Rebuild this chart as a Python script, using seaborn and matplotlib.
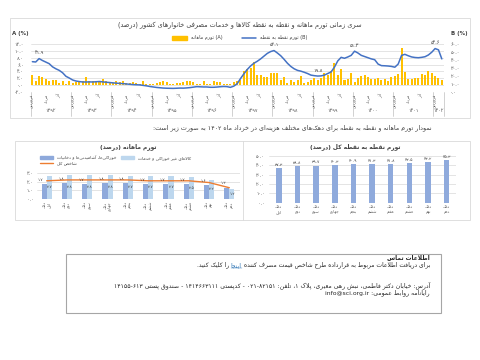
import re
import numpy as np
import pandas as pd
import seaborn as sns
import matplotlib.pyplot as plt
from matplotlib.patches import Rectangle, Patch
from matplotlib.lines import Line2D
from matplotlib.ticker import FuncFormatter
from matplotlib.transforms import blended_transform_factory

# ---------------- data ----------------
years = ['1392', '1393', '1394', '1395', '1396', '1397', '1398', '1399', '1400', '1401', '1402']
month_names = ['فروردین', 'مرداد', 'آذر']   # months labelled on the axis (every 4th)

# monthly inflation (A, left axis), Farvardin 1392 .. Khordad 1402
monthly_a = [
    3.0, 1.1, 2.6, 2.2, 1.8, 1.3, 1.4, 1.4, 0.5, 1.2, 0.3, 1.1,
    0.5, 1.0, 1.1, 1.3, 2.3, 1.2, 1.1, 1.0, 1.3, 1.8, 1.2, 0.8,
    0.6, 1.2, 0.9, 1.2, 0.7, 0.6, 0.8, 0.5, 0.4, 1.2, 0.3, 0.4,
    0.2, 0.6, 1.0, 1.1, 0.9, 0.4, 0.3, 0.7, 0.6, 0.9, 1.2, 1.2,
    0.9, 0.4, 0.3, 1.2, 0.2, 0.4, 1.1, 0.8, 0.8, 0.4, 0.2, 0.2,
    1.0, 1.3, 1.5, 4.0, 4.8, 5.0, 6.8, 2.8, 2.8, 2.3, 2.4, 3.4,
    3.5, 3.5, 1.4, 2.4, 0.5, 1.4, 0.9, 1.5, 2.6, 0.7, 1.0, 1.5,
    1.9, 1.6, 2.0, 3.4, 2.9, 4.0, 6.4, 3.0, 4.6, 1.5, 1.8, 3.4,
    1.0, 2.1, 2.6, 2.9, 2.4, 1.8, 1.7, 2.1, 1.5, 1.8, 1.3, 2.4,
    2.6, 3.2, 10.8, 3.9, 1.8, 1.8, 2.0, 2.0, 3.2, 2.9, 4.2, 3.4,
    2.6, 1.9, 1.5,
]
# point-to-point inflation (B, right axis)
point_b = [
    38.0, 37.6, 41.9, 39.5, 37.5, 35.5, 31.5, 29.0, 27.0, 24.0, 19.5, 17.3,
    14.8, 13.5, 12.8, 12.3, 12.3, 12.4, 12.3, 12.6, 12.9, 12.4, 12.0, 11.6,
    11.2, 10.8, 10.5, 10.2, 9.8, 9.4, 9.0, 8.8, 8.6, 8.0, 7.4, 6.6,
    6.0, 5.4, 5.0, 4.6, 4.4, 4.3, 4.2, 4.4, 4.6, 4.5, 4.8, 5.2,
    5.8, 6.4, 6.2, 6.0, 6.0, 5.6, 5.6, 5.9, 6.3, 6.6, 6.4, 5.5,
    7.0, 10.0, 16.5, 22.5, 28.0, 32.5, 36.0, 38.5, 41.5, 45.0, 48.5, 50.8,
    52.1, 49.0, 45.5, 41.0, 36.0, 32.0, 29.0, 27.0, 26.0, 24.6, 23.0, 21.0,
    20.3, 19.8, 20.0, 21.0, 23.0, 25.0, 31.0, 39.0, 43.5, 42.3, 44.0, 46.0,
    51.3, 49.0, 46.0, 44.5, 43.0, 41.5, 40.5, 35.0, 33.0, 32.8, 32.5, 32.0,
    31.0, 35.0, 46.0, 47.3, 45.5, 44.0, 43.3, 43.0, 43.5, 44.3, 46.5, 50.0,
    54.6, 53.0, 41.5,
]
labelled_months = [2, 72, 85, 96, 120]

deciles = ['اول', 'دوم', 'سوم', 'چهارم', 'پنجم', 'ششم', 'هفتم', 'هشتم', 'نهم', 'دهم']
food = [1.7, 1.8, 1.7, 1.8, 1.8, 1.7, 1.7, 1.7, 1.6, 1.3]
nonfood = [2.7, 2.8, 2.8, 2.8, 2.7, 2.7, 2.7, 2.5, 2.2, 1.2]
total = [2.1, 2.2, 2.2, 2.2, 2.2, 2.1, 2.1, 2.1, 1.9, 1.3]
decile_point = [37.3, 38.8, 39.7, 40.3, 40.9, 41.3, 41.8, 42.5, 43.2, 45.3]

YEL, BLUE = '#FFC000', '#4472C4'
DARK, LIGHT, MID, ORANGE = '#8EA9DB', '#BDD7EE', '#8FAADC', '#ED7D31'
TXT = '#404040'

# ---------------- persian text helpers ----------------
_FORMS = {}
_code = 0xFE80
for ch, k in [(0x0621, 1), (0x0622, 2), (0x0623, 2), (0x0624, 2), (0x0625, 2), (0x0626, 4),
              (0x0627, 2), (0x0628, 4), (0x0629, 2), (0x062A, 4), (0x062B, 4), (0x062C, 4),
              (0x062D, 4), (0x062E, 4), (0x062F, 2), (0x0630, 2), (0x0631, 2), (0x0632, 2),
              (0x0633, 4), (0x0634, 4), (0x0635, 4), (0x0636, 4), (0x0637, 4), (0x0638, 4),
              (0x0639, 4), (0x063A, 4), (0x0641, 4), (0x0642, 4), (0x0643, 4), (0x0644, 4),
              (0x0645, 4), (0x0646, 4), (0x0647, 4), (0x0648, 2), (0x0649, 2), (0x064A, 4)]:
    _FORMS[chr(ch)] = tuple(chr(_code + j) for j in range(k))
    _code += k
for ch, start, k in [(0x067E, 0xFB56, 4), (0x0686, 0xFB7A, 4), (0x0698, 0xFB8A, 2),
                     (0x06A9, 0xFB8E, 4), (0x06AF, 0xFB92, 4), (0x06CC, 0xFBFC, 4)]:
    _FORMS[chr(ch)] = tuple(chr(start + j) for j in range(k))
_LAMALEF = {'\u0627': ('\uFEFB', '\uFEFC'), '\u0622': ('\uFEF5', '\uFEF6'),
            '\u0623': ('\uFEF7', '\uFEF8'), '\u0625': ('\uFEF9', '\uFEFA')}


def shape(text):
    out, i, n = [], 0, len(text)
    while i < n:
        c = text[i]
        if c not in _FORMS:
            if c != '\u200c':
                out.append(c)
            i += 1
            continue
        prev = text[i - 1] if i > 0 else ''
        pj = prev in _FORMS and len(_FORMS[prev]) == 4
        if c == '\u0644' and i + 1 < n and text[i + 1] in _LAMALEF:
            out.append(_LAMALEF[text[i + 1]][1 if pj else 0])
            i += 2
            continue
        f = _FORMS[c]
        nxt = text[i + 1] if i + 1 < n else ''
        nj = len(f) == 4 and nxt in _FORMS
        if pj and nj:
            g = f[3]
        elif pj:
            g = f[1] if len(f) > 1 else f[0]
        elif nj:
            g = f[2]
        else:
            g = f[0]
        out.append(g)
        i += 1
    return ''.join(out)


_LTR = re.compile(r'[A-Za-z0-9\u06F0-\u06F9]+(?:[.@\-/][A-Za-z0-9\u06F0-\u06F9]+)*')
_MIRROR = {'(': ')', ')': '('}


def rtl(text):
    s = shape(text)
    parts, pos = [], 0
    for m in _LTR.finditer(s):
        if m.start() > pos:
            parts.append(('r', s[pos:m.start()]))
        parts.append(('l', m.group()))
        pos = m.end()
    if pos < len(s):
        parts.append(('r', s[pos:]))
    out = []
    for kind, p in reversed(parts):
        out.append(p if kind == 'l' else ''.join(_MIRROR.get(c, c) for c in reversed(p)))
    return ''.join(out)


def fa(s):
    return str(s).translate(str.maketrans('0123456789', '۰۱۲۳۴۵۶۷۸۹'))


fa1 = FuncFormatter(lambda v, p: fa(f'{v:.1f}'))

# ---------------- figure ----------------
sns.set_theme(style='white')
plt.rcParams['font.family'] = ['DejaVu Sans']
plt.rcParams['axes.unicode_minus'] = False

W, H = 480, 360
fig = plt.figure(figsize=(W / 100, H / 100), dpi=100, facecolor='white')


def fx(x):
    return x / W


def fy(y):
    return 1 - y / H


def box(x0, y0, x1, y1):
    return [fx(x0), fy(y1), (x1 - x0) / W, (y1 - y0) / H]


def frame(x0, y0, x1, y1, color, lw=0.6):
    fig.add_artist(Rectangle((fx(x0), fy(y1)), (x1 - x0) / W, (y1 - y0) / H,
                             transform=fig.transFigure, fill=False, ec=color, lw=lw))


# ---- top chart ----
n = len(monthly_a)
frame(10, 18, 470, 118, '#D9D9D9')
fig.text(fx(240), fy(25), rtl('سری زمانی تورم ماهانه و نقطه به نقطه کالاها و خدمات مصرفی خانوارهای کشور (درصد)'),
         ha='center', va='center', fontsize=4.7, color=TXT)
fig.text(fx(12), fy(33), 'A (%)', ha='left', va='center', fontsize=4, color=TXT, fontweight='bold')
fig.text(fx(468), fy(33), 'B (%)', ha='right', va='center', fontsize=4, color=TXT, fontweight='bold')

ax = fig.add_axes(box(30.7, 44.3, 443.5, 91.7))
df_m = pd.DataFrame({'m': np.arange(n), 'a': monthly_a, 'b': point_b})
sns.barplot(data=df_m, x='m', y='a', color=YEL, saturation=1, width=0.6, errorbar=None,
            edgecolor='none', linewidth=0, ax=ax)
ax.set_ylim(-2, 12)
ax.set_yticks(np.arange(-2, 13, 2))
ax.yaxis.set_major_formatter(fa1)
ax.set_xticks([])
ax.set_xlabel('')
ax.set_ylabel('')
ax.grid(axis='y', color='#D9D9D9', lw=0.5)
ax.set_axisbelow(True)
sns.despine(ax=ax, left=True, bottom=True)
ax.tick_params(axis='y', length=0, labelsize=3.5, labelcolor='#595959', pad=5)

ax2 = ax.twinx()
sns.lineplot(data=df_m, x='m', y='b', color=BLUE, lw=1.1, ax=ax2)
ax2.set_ylim(0, 60)
ax2.set_yticks(np.arange(0, 61, 10))
ax2.yaxis.set_major_formatter(fa1)
ax2.set_xlabel('')
ax2.set_ylabel('')
ax2.grid(False)
sns.despine(ax=ax2, left=True, bottom=True, right=True)
ax2.tick_params(axis='y', length=0, labelsize=3.5, labelcolor='#595959', pad=5)
for m in labelled_months:
    ax2.annotate(fa(f'{point_b[m]:.1f}'), (m, point_b[m]), xytext=(0, 2.5), textcoords='offset points',
                 ha='center', va='bottom', fontsize=3.5, color=TXT)

trans = blended_transform_factory(ax.transData, fig.transFigure)
for yi, yr in enumerate(years):
    start = yi * 12
    count = min(12, n - start)
    for k, name in zip((0, 4, 8), month_names):
        if k < count:
            ax.text(start + k, fy(93.5), rtl(name), rotation=90, ha='center', va='top',
                    fontsize=3, color='#595959', transform=trans, clip_on=False)
    ax.text(start + (count - 1) / 2, fy(111), fa(yr), ha='center', va='center',
            fontsize=3.5, color='#595959', transform=trans, clip_on=False)
    ax.plot([start - 0.5] * 2, [fy(92), fy(116)], transform=trans, color='#BFBFBF', lw=0.5, clip_on=False)
ax.plot([n - 0.5] * 2, [fy(92), fy(116)], transform=trans, color='#BFBFBF', lw=0.5, clip_on=False)
ax.set_xlim(-0.5, n - 0.5)

fig.legend([Patch(color=YEL), Line2D([], [], color=BLUE, lw=1.1)],
           [rtl('(A) تورم ماهانه'), rtl('(B) تورم نقطه به نقطه')],
           loc='center', bbox_to_anchor=(fx(240), fy(38)), ncol=2, frameon=False, fontsize=3.5,
           handlelength=3, handleheight=0.8, columnspacing=4, borderpad=0, labelcolor=TXT)

fig.text(fx(432), fy(128), rtl('نمودار تورم ماهانه و نقطه به نقطه برای دهک‌های مختلف هزینه‌ای در خرداد ماه ۱۴۰۲ به صورت زیر است:'),
         ha='right', va='center', fontsize=4.6, color=TXT)

# ---- bottom panels ----
frame(15, 140.7, 470, 220, '#D9D9D9')
fig.add_artist(Line2D([fx(243)] * 2, [fy(140.7), fy(220)], transform=fig.transFigure, color='#D9D9D9', lw=0.6))

# monthly inflation by decile
fig.text(fx(128), fy(146.5), rtl('تورم ماهانه (درصد)'), ha='center', va='center', fontsize=4.2, color=TXT, fontweight='bold')
axL = fig.add_axes(box(36.5, 173, 239.5, 199))
df_l = pd.DataFrame({'dec': np.tile(np.arange(10), 2), 'val': food + nonfood,
                     'grp': ['food'] * 10 + ['nonfood'] * 10})
sns.barplot(data=df_l, x='dec', y='val', hue='grp', palette=[DARK, LIGHT], width=0.5, saturation=1,
            errorbar=None, legend=False, edgecolor='none', linewidth=0, ax=axL)
axL.plot(np.arange(10), total, color=ORANGE, lw=1)
axL.set_xlim(-0.5, 9.5)
axL.set_ylim(0, 3)
axL.set_yticks([0, 1, 2, 3])
axL.yaxis.set_major_formatter(fa1)
axL.set_xticks([])
axL.set_xlabel('')
axL.set_ylabel('')
axL.grid(axis='y', color='#D9D9D9', lw=0.5)
axL.set_axisbelow(True)
sns.despine(ax=axL, left=True, bottom=True)
axL.tick_params(axis='y', length=0, labelsize=3.3, labelcolor='#595959', pad=2.5)
for i in range(10):
    axL.text(i - 0.3, food[i] + 0.3, fa(f'{food[i]:.1f}'), ha='center', va='bottom', fontsize=3, color=TXT)
    axL.text(i + 0.14, nonfood[i] / 2, fa(f'{nonfood[i]:.1f}'), ha='center', va='center', fontsize=3, color=TXT)
transL = blended_transform_factory(axL.transData, fig.transFigure)
for i, d in enumerate(deciles):
    axL.text(i, fy(201), rtl('دهک') + '\n' + rtl(d), rotation=90, ha='center', va='top', fontsize=2.8,
             color='#595959', linespacing=1.1, transform=transL, clip_on=False)
fig.legend([Patch(color=DARK), Line2D([], [], color=ORANGE, lw=1), Patch(color=LIGHT)],
           [rtl('خوراکی‌ها، آشامیدنی‌ها و دخانیات'), rtl('شاخص کل'), rtl('کالاهای غیر خوراکی و خدمات')],
           loc='upper left', bbox_to_anchor=(fx(40), fy(155.5)), ncol=2, frameon=False, fontsize=3.2,
           handlelength=3, handleheight=0.7, columnspacing=1, labelspacing=0.3, borderpad=0,
           borderaxespad=0, labelcolor=TXT)

# point-to-point inflation by decile
fig.text(fx(355), fy(146.5), rtl('تورم نقطه به نقطه کل (درصد)'), ha='center', va='center', fontsize=4.2, color=TXT, fontweight='bold')
axR = fig.add_axes(box(269.4, 156, 456, 202.7))
df_r = pd.DataFrame({'dec': np.arange(10), 'val': decile_point})
sns.barplot(data=df_r, x='dec', y='val', color=MID, width=0.3, saturation=1, errorbar=None,
            edgecolor='none', linewidth=0, ax=axR)
axR.set_xlim(-0.5, 9.5)
axR.set_ylim(0, 50)
axR.set_yticks(np.arange(0, 51, 10))
axR.yaxis.set_major_formatter(fa1)
axR.set_xticks([])
axR.set_xlabel('')
axR.set_ylabel('')
axR.grid(axis='y', color='#D9D9D9', lw=0.5)
axR.set_axisbelow(True)
sns.despine(ax=axR, left=True, bottom=True)
axR.tick_params(axis='y', length=0, labelsize=3.3, labelcolor='#595959', pad=3.2)
for i, v in enumerate(decile_point):
    axR.text(i, v + 1.2, fa(f'{v:.1f}'), ha='center', va='bottom', fontsize=3.2, color=TXT)
transR = blended_transform_factory(axR.transData, fig.transFigure)
for i, d in enumerate(deciles):
    axR.text(i, fy(205), rtl('دهک') + '\n' + rtl(d), ha='center', va='top', fontsize=2.8,
             color='#595959', linespacing=1.3, transform=transR, clip_on=False)

# ---- contact box ----
frame(65.7, 254, 440.7, 313, '#A6A6A6', lw=0.8)
fig.text(fx(430), fy(257.5), rtl('اطلاعات تماس'), ha='right', va='center', fontsize=4.2, color='#262626', fontweight='bold')
fig.canvas.draw()
renderer = fig.canvas.get_renderer()
x_right = 430
for txt, col in [('برای دریافت اطلاعات مربوط به قرارداده طرح شاخص قیمت مصرف کننده', '#262626'),
                 ('اینجا', '#2E75B6'), ('را کلیک کنید.', '#262626')]:
    t = fig.text(fx(x_right), fy(265), rtl(txt), ha='right', va='center', fontsize=4.3, color=col)
    bb = t.get_window_extent(renderer)
    if col == '#2E75B6':
        fig.add_artist(Line2D([bb.x0 / W, bb.x1 / W], [fy(267.8)] * 2, transform=fig.transFigure, color=col, lw=0.3))
    x_right = bb.x0 - 1.9
fig.text(fx(430), fy(285), rtl('آدرس: خیابان دکتر فاطمی، نبش رهی معیری، پلاک ۱، تلفن: ۰۲۱-۸۲۱۵۱ - کدپستی ۱۴۱۴۶۶۳۱۱۱ - صندوق پستی ۱۴۱۵۵-۶۱۳'),
         ha='right', va='center', fontsize=4.4, color='#262626')
fig.text(fx(430), fy(293), rtl('رایانامه روابط عمومی: info@sci.org.ir'), ha='right', va='center', fontsize=4.4, color='#262626')

fig.savefig('out.png', dpi=100, facecolor='white')
